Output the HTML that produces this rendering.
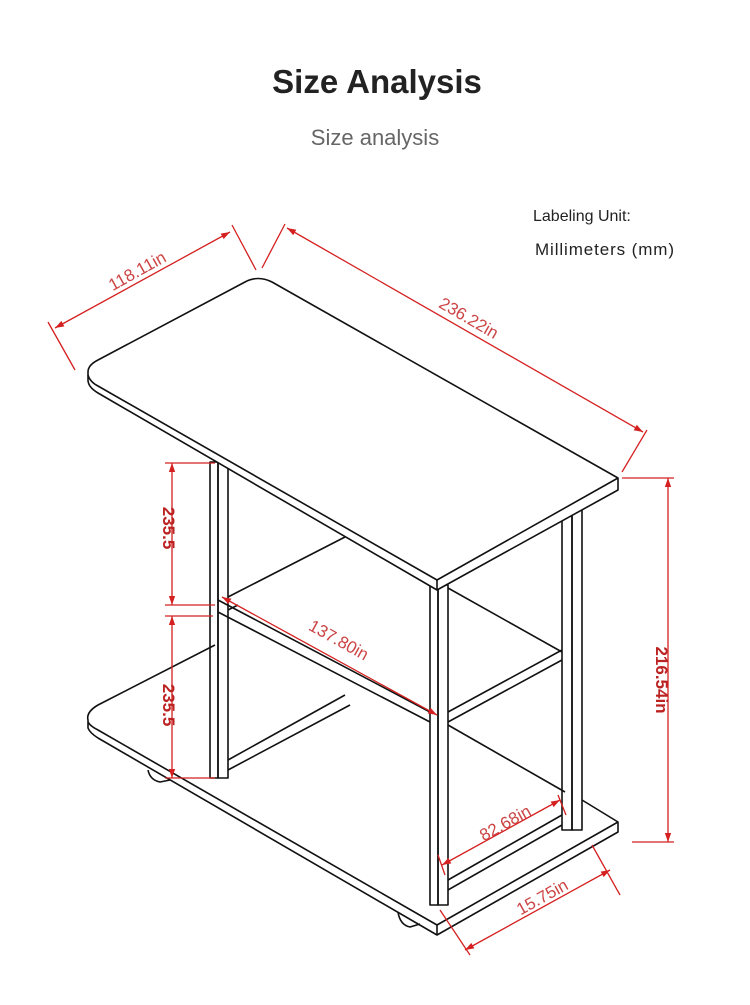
<!DOCTYPE html>
<html><head><meta charset="utf-8"><style>
body{margin:0;background:#fff;width:750px;height:1000px;overflow:hidden;font-family:"Liberation Sans",sans-serif}
</style></head><body>
<svg width="750" height="1000" viewBox="0 0 750 1000" xmlns="http://www.w3.org/2000/svg">
<defs><marker id="a" viewBox="0 0 10 10" refX="10" refY="5" markerWidth="9" markerHeight="9" orient="auto-start-reverse" markerUnits="userSpaceOnUse"><path d="M0,1.5 L10,5 L0,8.5 Z" fill="#d42020"/></marker></defs>
<text x="377" y="93" text-anchor="middle" font-size="33" font-weight="bold" fill="#222">Size Analysis</text>
<text x="375" y="145" text-anchor="middle" font-size="22" fill="#666">Size analysis</text>
<text x="533" y="221" font-size="16" fill="#222">Labeling Unit:</text>
<text x="535" y="255" font-size="17" fill="#222" textLength="139">Millimeters (mm)</text>
<g fill="none" stroke="#111" stroke-width="1.6" stroke-linejoin="round">
<path d="M215,645 L98,705 Q86,712 88,720 L88,728 Q90,733 98,738 L437,935 L618,832 L618,822 L582,800"/>
<path d="M88,722 Q90,726 98,730 L437,925 L618,822"/>
<line x1="437" y1="925" x2="437" y2="935"/>
<line x1="448" y1="725" x2="565" y2="792"/>
<path d="M148,770 Q150,780 160,782 L170,780"/>
<path d="M398,912 Q400,925 410,927 L420,924"/>
<rect x="210" y="462" width="8" height="316"/><rect x="218" y="462" width="10" height="316"/>
<rect x="430" y="585" width="8" height="320"/><rect x="438" y="585" width="10" height="320"/>
<rect x="562" y="512" width="10" height="318"/><rect x="572" y="510" width="10" height="320"/>
<line x1="228" y1="597" x2="345" y2="537"/>
<line x1="448" y1="588" x2="562" y2="652"/>
<path d="M218,600 L430,712 M218,612 L430,722"/>
<path d="M448,712 L562,650 M448,722 L562,660"/>
<line x1="228" y1="610" x2="238" y2="605"/>
<path d="M228,760 L345,695 M228,770 L350,705"/>
<path d="M448,880 L562,815 M448,890 L562,825"/>
<path d="M98,360 L245,282 Q258,275 272,282 L618,478 L618,490 L437,590 L98,393 Q88,387 88,380 L88,372 Q88,365 98,360 Z" fill="#fff"/>
<path d="M88,375 Q90,382 98,386 L437,580 L618,478"/>
<line x1="437" y1="580" x2="437" y2="590"/>
</g>
<g stroke="#d42020" stroke-width="1.3" fill="none">
<line x1="55" y1="328" x2="230" y2="232" marker-start="url(#a)" marker-end="url(#a)"/>
<line x1="48" y1="322" x2="75" y2="370"/><line x1="232" y1="225" x2="256" y2="270"/>
<line x1="287" y1="228" x2="643" y2="432" marker-start="url(#a)" marker-end="url(#a)"/>
<line x1="285" y1="224" x2="262" y2="268"/><line x1="647" y1="430" x2="622" y2="472"/>
<line x1="668" y1="478" x2="668" y2="842" marker-start="url(#a)" marker-end="url(#a)"/>
<line x1="622" y1="478" x2="674" y2="478"/><line x1="632" y1="842" x2="674" y2="842"/>
<line x1="172" y1="463" x2="172" y2="605" marker-start="url(#a)" marker-end="url(#a)"/>
<line x1="172" y1="616" x2="172" y2="778" marker-start="url(#a)" marker-end="url(#a)"/>
<line x1="165" y1="463" x2="215" y2="463"/><line x1="165" y1="605" x2="215" y2="605"/>
<line x1="165" y1="616" x2="213" y2="616"/><line x1="165" y1="778" x2="215" y2="778"/>
<line x1="222" y1="597" x2="437" y2="715" marker-start="url(#a)" marker-end="url(#a)"/>
<line x1="442" y1="865" x2="560" y2="800" marker-start="url(#a)" marker-end="url(#a)"/>
<line x1="438" y1="855" x2="445" y2="875"/><line x1="558" y1="795" x2="566" y2="815"/>
<line x1="465" y1="950" x2="610" y2="870" marker-start="url(#a)" marker-end="url(#a)"/>
<line x1="440" y1="910" x2="470" y2="955"/><line x1="592" y1="845" x2="620" y2="895"/>
</g>
<g fill="#c44" font-size="17">
<text transform="translate(140,276) rotate(-29)" text-anchor="middle">118.11in</text>
<text transform="translate(466,323) rotate(30)" text-anchor="middle">236.22in</text>
<text transform="translate(336,645) rotate(29)" text-anchor="middle">137.80in</text>
<text transform="translate(508,828) rotate(-29)" text-anchor="middle">82.68in</text>
<text transform="translate(545,902) rotate(-29)" text-anchor="middle">15.75in</text>
<text transform="translate(656,680) rotate(90)" text-anchor="middle" font-weight="bold" fill="#b22">216.54in</text>
<text transform="translate(163,528) rotate(90)" text-anchor="middle" font-weight="bold" fill="#b22">235.5</text>
<text transform="translate(163,705) rotate(90)" text-anchor="middle" font-weight="bold" fill="#b22">235.5</text>
</g>
</svg>
</body></html>
